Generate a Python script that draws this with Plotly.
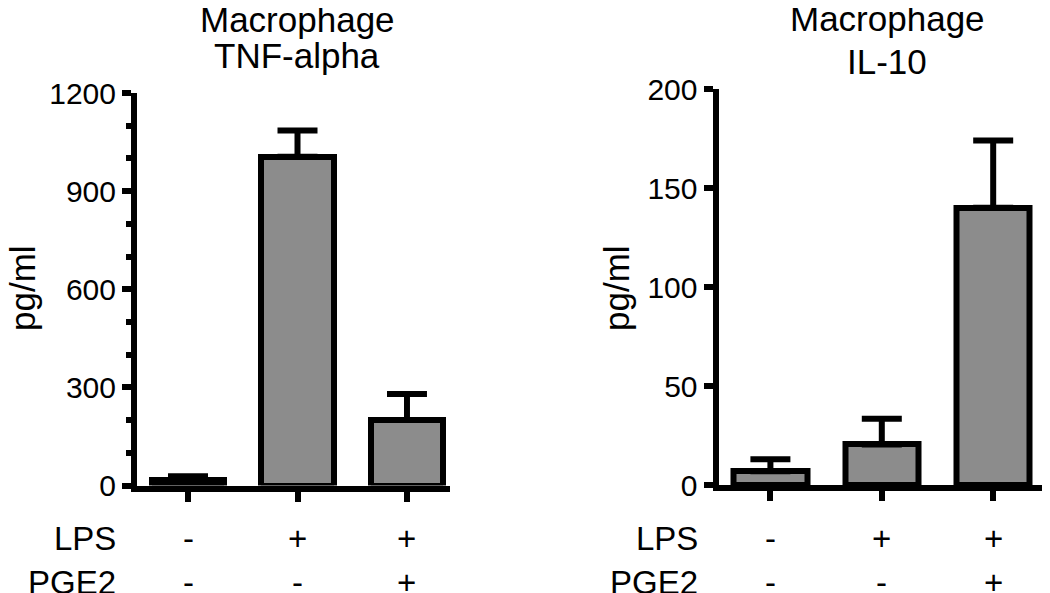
import plotly.graph_objects as go

# Data
conditions = [0, 1, 2]
lps = ['-', '+', '+']
pge2 = ['-', '-', '+']

tnf_mean = [16, 1005, 200]
tnf_err = [12, 80, 80]

il10_mean = [7, 20.5, 140]
il10_err = [6, 13, 34]

W, H = 1050, 593
OFF = 8  # page body margin in the browser
FONT = 'Arial, Liberation Sans, sans-serif'
BAR_GREY = '#8c8c8c'


def px_x(p):
    return (p - OFF) / W


def px_y(p):
    return (H - (p - OFF)) / H


fig = go.Figure()

for mean, err, xa, ya in [(tnf_mean, tnf_err, 'x', 'y'), (il10_mean, il10_err, 'x2', 'y2')]:
    fig.add_trace(go.Bar(
        x=conditions, y=mean,
        width=0.66,
        marker=dict(color=BAR_GREY, line=dict(color='black', width=6)),
        error_y=dict(type='data', array=err, arrayminus=[0] * len(err),
                     symmetric=False, color='black', thickness=6, width=20),
        xaxis=xa, yaxis=ya,
        showlegend=False,
    ))

axis_common = dict(showline=True, linecolor='black', linewidth=6,
                   ticks='outside', tickcolor='black', tickwidth=6,
                   showgrid=False, zeroline=False, automargin=False)
tick_font = dict(family=FONT, size=30, color='black')

fig.update_layout(
    template='none',
    width=W, height=H,
    margin=dict(l=0, r=0, t=0, b=0, pad=0),
    paper_bgcolor='white', plot_bgcolor='white',
    bargap=0,
    xaxis=dict(domain=[px_x(137), px_x(450)], range=[-0.466, 2.393],
               tickvals=conditions, showticklabels=False, ticklen=10,
               anchor='y', **axis_common),
    yaxis=dict(domain=[px_y(485.5), px_y(93)], range=[0, 1200],
               tickvals=[0, 300, 600, 900, 1200], ticklen=9, tickfont=tick_font,
               minor=dict(dtick=100, ticks='outside', ticklen=5, tickwidth=6, tickcolor='black'),
               anchor='x', **axis_common),
    xaxis2=dict(domain=[px_x(718.5), px_x(1050)], range=[-0.466, 2.51],
                tickvals=conditions, showticklabels=False, ticklen=10,
                anchor='y2', **axis_common),
    yaxis2=dict(domain=[px_y(485), px_y(89)], range=[0, 200],
                tickvals=[0, 50, 100, 150, 200], ticklen=9, tickfont=tick_font,
                anchor='x2', **axis_common),
)

label_font = dict(family=FONT, size=33, color='black')

# condition labels under each bar
for xref in ['x', 'x2']:
    for i, c in enumerate(conditions):
        fig.add_annotation(x=c, xref=xref, y=px_y(538.5), yref='paper', text=lps[i],
                           showarrow=False, yanchor='middle', font=label_font)
        fig.add_annotation(x=c, xref=xref, y=px_y(582), yref='paper', text=pge2[i],
                           showarrow=False, yanchor='middle', font=label_font)

for xr in [118, 700]:
    fig.add_annotation(x=px_x(xr), xref='paper', y=px_y(538.5), yref='paper', text='LPS',
                       showarrow=False, xanchor='right', yanchor='middle', font=label_font)
    fig.add_annotation(x=px_x(xr), xref='paper', y=px_y(582), yref='paper', text='PGE2',
                       showarrow=False, xanchor='right', yanchor='middle', font=label_font)

# titles
titles = [(297, ['Macrophage', 'TNF-alpha'], [20, 55]),
          (887, ['Macrophage', 'IL-10'], [18, 61.5])]
for cx, lines, ys in titles:
    for txt, yy in zip(lines, ys):
        fig.add_annotation(x=px_x(cx), xref='paper', y=px_y(yy), yref='paper', text=txt,
                           showarrow=False, xanchor='center', yanchor='middle',
                           font=dict(family=FONT, size=35, color='black'))

# y axis titles
for cx in [22, 616]:
    fig.add_annotation(x=px_x(cx), xref='paper', y=px_y(288), yref='paper', text='pg/ml',
                       showarrow=False, textangle=-90, xanchor='center', yanchor='middle',
                       font=dict(family=FONT, size=35, color='black'))

fig.write_html("out.html")
